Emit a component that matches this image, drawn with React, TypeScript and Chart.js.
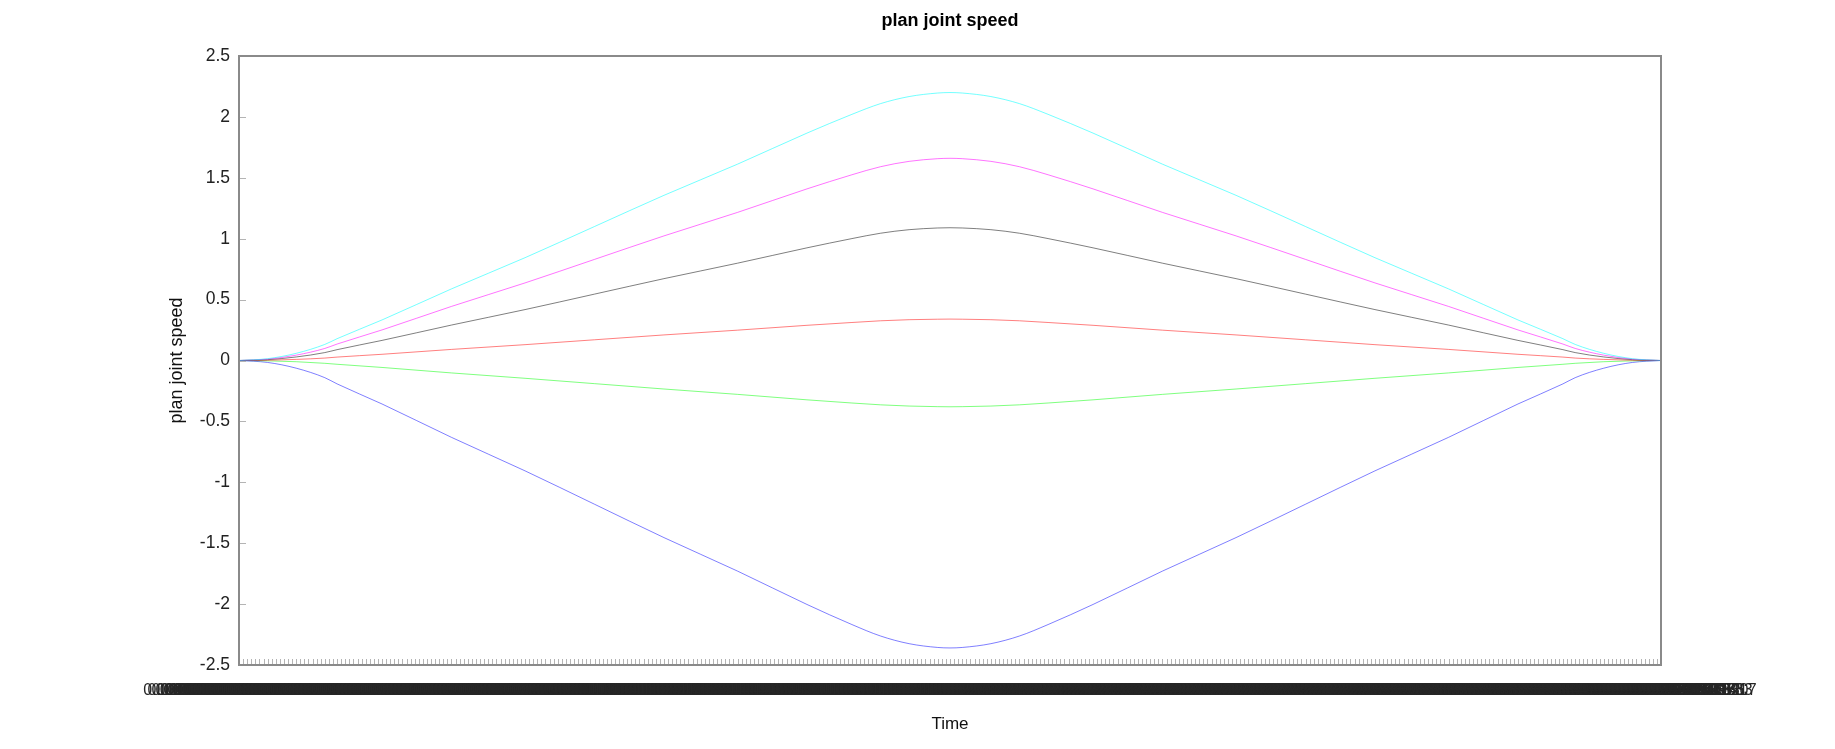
import React, { useEffect, useRef } from 'react';
import { Chart, registerables } from 'chart.js';

Chart.register(...registerables);

// sample times (s) of the plotted points
const times = [0, 0.07, 0.14, 0.21, 0.24, 0.35, 0.52, 0.70, 0.87, 1.04, 1.22, 1.39, 1.50, 1.57, 1.64, 1.71, 1.74,
  1.77, 1.84, 1.91, 1.98, 2.09, 2.26, 2.44, 2.61, 2.78, 2.96, 3.13, 3.24, 3.27, 3.34, 3.41, 3.48];

const joint1 = [0, 0.015, 0.059, 0.132, 0.179, 0.333, 0.588, 0.844, 1.10, 1.356, 1.612, 1.867, 2.021, 2.109, 2.167, 2.196, 2.2,
  2.196, 2.167, 2.109, 2.021, 1.867, 1.612, 1.356, 1.10, 0.844, 0.588, 0.333, 0.179, 0.132, 0.059, 0.015, 0];
const joint2 = [0, 0.011, 0.044, 0.099, 0.135, 0.251, 0.444, 0.637, 0.83, 1.023, 1.216, 1.409, 1.525, 1.591, 1.635, 1.657, 1.66,
  1.657, 1.635, 1.591, 1.525, 1.409, 1.216, 1.023, 0.83, 0.637, 0.444, 0.251, 0.135, 0.099, 0.044, 0.011, 0];
const joint3 = [0, 0.007, 0.029, 0.065, 0.089, 0.165, 0.291, 0.418, 0.545, 0.672, 0.799, 0.925, 1.001, 1.045, 1.074, 1.088, 1.09,
  1.088, 1.074, 1.045, 1.001, 0.925, 0.799, 0.672, 0.545, 0.418, 0.291, 0.165, 0.089, 0.065, 0.029, 0.007, 0];
const joint4 = [0, 0.002, 0.009, 0.020, 0.028, 0.051, 0.091, 0.130, 0.17, 0.21, 0.249, 0.289, 0.312, 0.326, 0.335, 0.339, 0.34,
  0.339, 0.335, 0.326, 0.312, 0.289, 0.249, 0.21, 0.17, 0.130, 0.091, 0.051, 0.028, 0.020, 0.009, 0.002, 0];
const joint5 = [0, -0.003, -0.010, -0.023, -0.031, -0.057, -0.102, -0.146, -0.19, -0.234, -0.278, -0.323, -0.349, -0.364, -0.374, -0.379, -0.38,
  -0.379, -0.374, -0.364, -0.349, -0.323, -0.278, -0.234, -0.19, -0.146, -0.102, -0.057, -0.031, -0.023, -0.010, -0.003, 0];
const joint6 = [0, -0.016, -0.063, -0.141, -0.192, -0.357, -0.631, -0.906, -1.18, -1.454, -1.729, -2.003, -2.168, -2.262, -2.325, -2.356, -2.36,
  -2.356, -2.325, -2.262, -2.168, -2.003, -1.729, -1.454, -1.18, -0.906, -0.631, -0.357, -0.192, -0.141, -0.063, -0.016, 0];

const seriesColors = [
  'rgba(0,255,255,0.55)',
  'rgba(255,0,255,0.55)',
  'rgba(0,0,0,0.5)',
  'rgba(255,0,0,0.5)',
  'rgba(0,255,0,0.5)',
  'rgba(0,0,255,0.5)',
];
const seriesValues = [joint1, joint2, joint3, joint4, joint5, joint6];

const yTickValues = [-2.5, -2, -1.5, -1, -0.5, 0, 0.5, 1, 1.5, 2, 2.5];

// time-step tick labels on the x axis (one per control cycle)
const timeStep = 0.01;
const timeTickCount = 349;
const xTickValues: number[] = [];
{
  let t = 0;
  for (let i = 0; i < timeTickCount; i++) {
    xTickValues.push(t);
    t += timeStep;
  }
}

const FONT = 'Liberation Sans';

const framePlugin = {
  id: 'frame',
  afterDatasetsDraw(chart: any) {
    const { ctx, chartArea: a, scales } = chart;
    ctx.save();
    ctx.strokeStyle = '#b4b4b4';
    ctx.lineWidth = 1;
    ctx.beginPath();
    const xs = scales.x;
    xs.ticks.forEach((t: any) => {
      const px = Math.round(xs.getPixelForValue(t.value)) + 0.5;
      ctx.moveTo(px, a.bottom);
      ctx.lineTo(px, a.bottom - 6);
    });
    const ys = scales.y;
    ys.ticks.forEach((t: any) => {
      const py = Math.round(ys.getPixelForValue(t.value)) + 0.5;
      ctx.moveTo(a.left, py);
      ctx.lineTo(a.left + 7, py);
    });
    ctx.stroke();
    ctx.strokeStyle = '#8a8a8a';
    ctx.lineWidth = 2;
    ctx.strokeRect(a.left, a.top, a.right - a.left, a.bottom - a.top);
    ctx.restore();
  },
};

export default function App() {
  const canvasRef = useRef<HTMLCanvasElement | null>(null);

  useEffect(() => {
    if (!canvasRef.current) return;
    Chart.defaults.font.family = FONT;
    const datasets = seriesValues.map((vals, k) => ({
      label: 'joint ' + (k + 1),
      data: times.map((t, i) => ({ x: t, y: vals[i] })),
      borderColor: seriesColors[k],
      backgroundColor: seriesColors[k],
      borderWidth: 1,
      pointRadius: 0,
      cubicInterpolationMode: 'monotone',
      fill: false,
    }));
    const chart = new Chart(canvasRef.current, {
      type: 'line',
      data: { datasets },
      plugins: [framePlugin],
      options: {
        animation: false,
        responsive: false,
        maintainAspectRatio: false,
        events: [],
        layout: { padding: { left: 0, right: 174, top: 0, bottom: 0 } },
        plugins: {
          legend: { display: false },
          tooltip: { enabled: false },
          title: {
            display: true,
            text: 'plan joint speed',
            fullSize: false,
            color: '#000',
            font: { family: FONT, size: 18, weight: 'bold' },
            padding: { top: 10, bottom: 24.4 },
          },
        },
        scales: {
          x: {
            type: 'linear',
            min: xTickValues[0],
            max: xTickValues[xTickValues.length - 1],
            afterBuildTicks: (s: any) => {
              s.ticks = xTickValues.map((v) => ({ value: v }));
            },
            afterFit: (s: any) => {
              s.height = 84;
              s.paddingLeft = 0;
              s.paddingRight = 0;
            },
            ticks: {
              autoSkip: false,
              maxRotation: 0,
              minRotation: 0,
              padding: 16,
              color: '#262626',
              font: { family: FONT, size: 16 },
              callback: (v: any) => Number(v).toFixed(20),
            },
            grid: { display: false, drawTicks: false, drawOnChartArea: false },
            border: { display: false },
            title: {
              display: true,
              text: 'Time',
              color: '#111',
              font: { family: FONT, size: 17 },
              padding: { top: 0, bottom: 14.5 },
            },
          },
          y: {
            type: 'linear',
            min: -2.5,
            max: 2.5,
            afterBuildTicks: (s: any) => {
              s.ticks = yTickValues.map((v) => ({ value: v }));
            },
            afterFit: (s: any) => {
              s.width = 239;
            },
            ticks: {
              padding: 9,
              color: '#222',
              font: { family: FONT, size: 17.5 },
              callback: (v: any) => String(v),
            },
            grid: { display: false, drawTicks: false, drawOnChartArea: false },
            border: { display: false },
            title: {
              display: true,
              text: 'plan joint speed',
              color: '#111',
              font: { family: FONT, size: 18 },
              padding: { top: 166, bottom: 0 },
            },
          },
        },
      },
    } as any);
    return () => chart.destroy();
  }, []);

  return (
    <div style={{ position: 'fixed', left: 0, top: 0, width: 1835, height: 749, background: '#fff' }}>
      <canvas ref={canvasRef} width={1835} height={749} style={{ width: 1835, height: 749, display: 'block' }} />
    </div>
  );
}
